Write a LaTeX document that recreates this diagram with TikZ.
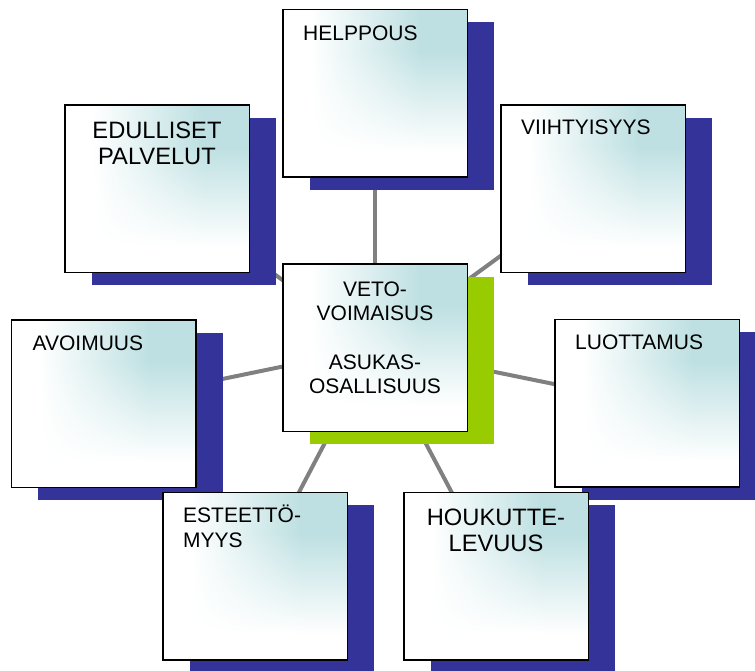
\documentclass[tikz,border=0pt]{standalone}
\usepackage{fontspec}
\setmainfont{Liberation Sans}
\usetikzlibrary{shadows,backgrounds}
\definecolor{shadowblue}{RGB}{51,51,153}
\definecolor{hubgreen}{RGB}{153,204,0}
\definecolor{linkgray}{RGB}{128,128,128}
% white at the left and bottom, teal towards the upper right corner
\pgfdeclarefunctionalshading{cornerteal}{\pgfpoint{-50bp}{-50bp}}{\pgfpoint{50bp}{50bp}}{}{
  17.5 add 30 div dup 0 lt {pop 0} if dup 1 gt {pop 1} if
  exch 17.5 add 30 div dup 0 lt {pop 0} if dup 1 gt {pop 1} if
  mul
  dup 0.255 mul 1 exch sub
  exch dup 0.122 mul 1 exch sub
  exch 0.114 mul 1 exch sub
}

\begin{document}
\begin{tikzpicture}[%
  x=1pt, y=-1pt,
  card/.style={rectangle, draw=black, line width=1.5pt, minimum width=184.5pt, minimum height=167.5pt,
    inner sep=0pt, shade, shading=cornerteal},
  topic/.style={card, drop shadow={shadow xshift=27pt, shadow yshift=-13pt, fill=shadowblue, opacity=1}},
  hub/.style={card, drop shadow={shadow xshift=27pt, shadow yshift=-13pt, fill=hubgreen, opacity=1}},
  caption/.style={inner sep=0pt, align=left, font=\fontsize{21}{25}\selectfont},
  bigcaption/.style={inner sep=0pt, align=center, font=\fontsize{23.7}{26}\selectfont},
  link/.style={linkgray, line width=4pt},
  ]
  \useasboundingbox (0,0) rectangle (755,670);
  % boxes
  \node[hub] (veto) at (375,347.5) {};
  \node[topic] (helppous) at (375,93) {};
  \node[topic] (edulliset) at (157,188.5) {};
  \node[topic] (viihtyisyys) at (593,188.5) {};
  \node[topic] (avoimuus) at (103.5,403.5) {};
  \node[topic] (luottamus) at (647,403) {};
  \node[topic] (esteetto) at (255,576) {};
  \node[topic] (houkutte) at (496,576) {};
  % texts
  \node[caption, anchor=north] (veto-text) at ([yshift=-16pt]veto.north)
    {\begin{tabular}{@{}c@{}}VETO-\\[-1pt]VOIMAISUS\\[24pt]ASUKAS-\\[-1pt]OSALLISUUS\end{tabular}};
  \node[caption, anchor=north west] (helppous-text) at ([xshift=21pt, yshift=-17pt]helppous.north west) {HELPPOUS};
  \node[bigcaption, anchor=north] (edulliset-text) at ([yshift=-18pt]edulliset.north) {EDULLISET\\PALVELUT};
  \node[caption, anchor=north west] (viihtyisyys-text) at ([xshift=21pt, yshift=-16pt]viihtyisyys.north west) {VIIHTYISYYS};
  \node[caption, anchor=north west] (avoimuus-text) at ([xshift=22pt, yshift=-17pt]avoimuus.north west) {AVOIMUUS};
  \node[caption, anchor=north west] (luottamus-text) at ([xshift=21pt, yshift=-16pt]luottamus.north west) {LUOTTAMUS};
  \node[caption, anchor=north west] (esteetto-text) at ([xshift=21pt, yshift=-13pt]esteetto.north west) {ESTEETTÖ-\\MYYS};
  \node[bigcaption, anchor=north] (houkutte-text) at ([yshift=-17pt]houkutte.north) {HOUKUTTE-\\LEVUUS};
  % links behind everything
  \begin{scope}[on background layer]
    \draw[link] (veto.center) -- (helppous.center);
    \draw[link] (veto.center) -- (edulliset.center);
    \draw[link] (veto.center) -- (viihtyisyys.center);
    \draw[link] (veto.center) -- (avoimuus.center);
    \draw[link] (veto.center) -- (luottamus.center);
    \draw[link] (veto.center) -- (esteetto.center);
    \draw[link] (veto.center) -- (houkutte.center);
  \end{scope}
\end{tikzpicture}
\end{document}
